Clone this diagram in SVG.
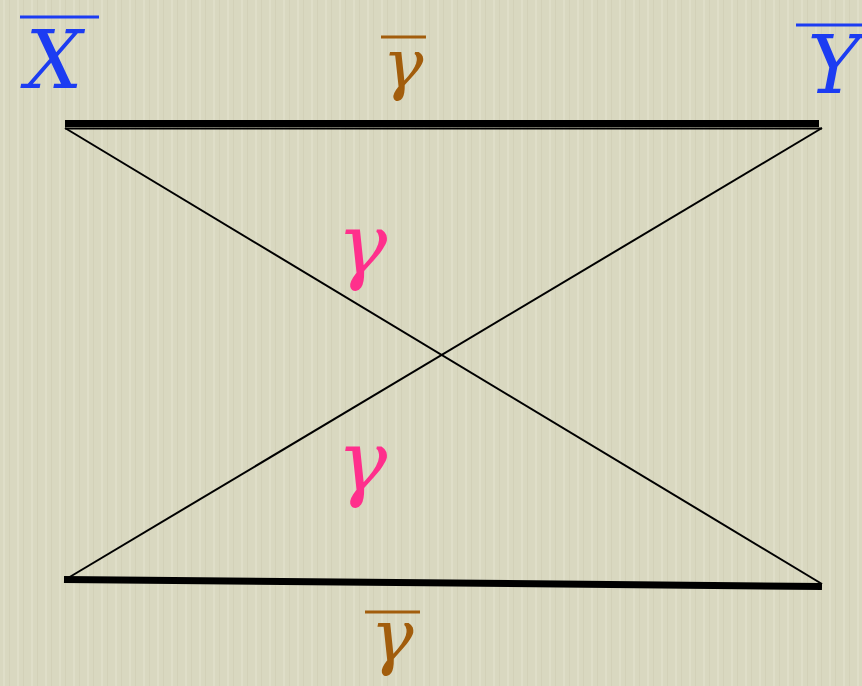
<svg xmlns="http://www.w3.org/2000/svg" width="862" height="686" viewBox="0 0 862 686">
<defs>
<pattern id="tex" width="14" height="686" patternUnits="userSpaceOnUse">
<rect width="14" height="686" fill="#d9d8c0"/>
<rect x="3" width="2" height="686" fill="#e2e1cc" opacity="0.7"/>
<rect x="9" width="1" height="686" fill="#cfcdb3" opacity="0.6"/>
</pattern>
<style>
.lbl{font-family:"DejaVu Serif","Liberation Serif",serif;font-style:italic;text-anchor:middle}
.blue{fill:#1c3cf2}
.brown{fill:#a25d0c}
.pink{fill:#ff2f8c}
.ol-blue{stroke:#1c3cf2;stroke-width:3}
.ol-brown{stroke:#a25d0c;stroke-width:3}
.thin{stroke:#000;stroke-width:2;fill:none}
.thick{stroke:#000;stroke-width:7;fill:none}
</style>
</defs>
<rect width="862" height="686" fill="url(#tex)"/>
<g id="connectors">
<line class="thick" x1="65" y1="123.5" x2="819" y2="123.5"/>
<line class="thin" x1="65" y1="128.5" x2="822" y2="128.5"/>
<line class="thin" x1="65" y1="128" x2="822" y2="584"/>
<line class="thin" x1="822" y1="128" x2="68" y2="578"/>
<line class="thick" x1="64" y1="579.5" x2="822" y2="586.5"/>
</g>
<g id="label-X">
<line class="ol-blue" x1="20" y1="17" x2="99" y2="17"/>
<text class="lbl blue" x="54" y="88" font-size="80">X</text>
</g>
<g id="label-Y">
<line class="ol-blue" x1="796" y1="25" x2="862" y2="25"/>
<text class="lbl blue" x="834" y="93" font-size="80">Y</text>
</g>
<g id="label-gamma-bar-top">
<line class="ol-brown" x1="381" y1="37" x2="426" y2="37"/>
<text class="lbl brown" x="403" y="87" font-size="68">γ</text>
</g>
<g id="label-gamma-1">
<text class="lbl pink" x="362" y="273" font-size="84">γ</text>
</g>
<g id="label-gamma-2">
<text class="lbl pink" x="362" y="490" font-size="84">γ</text>
</g>
<g id="label-gamma-bar-bottom">
<line class="ol-brown" x1="365" y1="612" x2="420" y2="612"/>
<text class="lbl brown" x="392" y="661" font-size="72">γ</text>
</g>
</svg>
